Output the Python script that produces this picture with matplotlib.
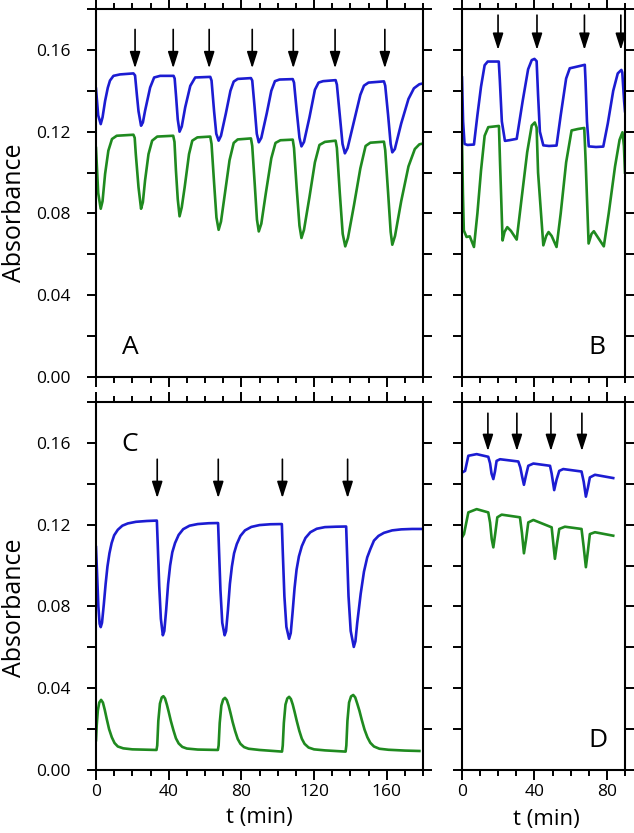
import matplotlib
matplotlib.use('Agg')
import matplotlib.pyplot as plt
from matplotlib.ticker import MultipleLocator, FormatStrFormatter

plt.rcParams['font.family'] = ['Open Sans', 'DejaVu Sans']

BLUE = '#1c1cd2'
GREEN = '#1f8a1f'

# panel A (t in min, absorbance)
a_blue_t = [0, 1.2, 2.6, 3.6, 5.0, 6.5, 7.7, 9.6, 13.2, 20.6, 21.5, 22.5, 23.4, 24.8, 25.8, 27.0, 29.8, 32.0, 35.3, 42.7,
            43.3, 44.1, 45.0, 46.0, 47.2, 49.1, 51.9, 54.6, 62.9, 63.6, 65.0, 66.2, 67.5, 68.8, 71.5, 74.0, 75.8, 78, 85.3,
            86.0, 87.3, 88.5, 89.6, 91, 94, 96.5, 98.5, 101, 108.3, 109, 110.5, 112, 113.1, 114.5, 117.5, 120.5, 122.5, 125,
            131.9, 132.6, 134.2, 135.7, 137, 138.5, 142, 145.5, 147.5, 150, 158.5, 159.2, 160.8, 162.2, 163.1, 164.5, 168,
            172, 175, 178, 180]
a_blue = [0.141, 0.128, 0.1237, 0.127, 0.135, 0.1415, 0.145, 0.1473, 0.148, 0.1485, 0.1475, 0.138, 0.130, 0.1229, 0.1245,
          0.1302, 0.1416, 0.1465, 0.1473, 0.1473, 0.146, 0.137, 0.126, 0.120, 0.1225, 0.1319, 0.1424, 0.1465, 0.1468,
          0.145, 0.130, 0.119, 0.1156, 0.118, 0.129, 0.140, 0.1445, 0.1458, 0.1462, 0.145, 0.132, 0.119, 0.1148, 0.117,
          0.129, 0.140, 0.1447, 0.1455, 0.1457, 0.144, 0.130, 0.117, 0.1128, 0.115, 0.127, 0.1405, 0.1440, 0.1447, 0.1452,
          0.143, 0.128, 0.114, 0.1094, 0.112, 0.125, 0.138, 0.1425, 0.1440, 0.1446, 0.1425, 0.128, 0.114, 0.1099, 0.1115,
          0.124, 0.136, 0.1412, 0.1432, 0.1436]
a_green_t = [0, 1.2, 2.6, 3.6, 5.0, 6.8, 8.8, 11.4, 20.6, 21.3, 21.9, 23.4, 24.8, 25.8, 27.0, 28.9, 30.9, 33.7, 42.5, 43.2,
             44.0, 45.0, 46.0, 47.2, 48.8, 51.2, 53.0, 55.8, 62.9, 63.6, 65.0, 66.3, 67.5, 68.8, 71.0, 73.5, 75.8, 78, 85.3,
             86, 87.4, 88.6, 89.6, 91, 93.5, 96.5, 98.8, 101.5, 108.3, 109, 110.5, 112, 113.1, 114.5, 117.5, 120.5, 123, 126,
             131.9, 132.6, 134.2, 135.8, 137.2, 138.7, 142, 145.5, 148.4, 151, 158.5, 159.2, 160.8, 162.2, 163.1, 164.6, 168,
             172, 175.5, 178, 180]
a_green = [0.112, 0.090, 0.0823, 0.086, 0.0993, 0.1107, 0.1164, 0.118, 0.1185, 0.117, 0.1091, 0.0928, 0.0823, 0.0855,
           0.0961, 0.109, 0.1156, 0.1176, 0.118, 0.115, 0.101, 0.087, 0.0786, 0.083, 0.0928, 0.109, 0.1156, 0.1172, 0.1176,
           0.114, 0.095, 0.078, 0.072, 0.076, 0.090, 0.106, 0.1145, 0.1162, 0.1167, 0.113, 0.094, 0.077, 0.0712, 0.075,
           0.090, 0.107, 0.1145, 0.1158, 0.1161, 0.112, 0.092, 0.074, 0.068, 0.072, 0.088, 0.105, 0.1135, 0.1150, 0.1156,
           0.112, 0.090, 0.070, 0.0639, 0.068, 0.084, 0.102, 0.1130, 0.1146, 0.1151, 0.111, 0.090, 0.071, 0.0647, 0.069,
           0.086, 0.103, 0.1115, 0.1138, 0.1142]
a_arrows = [21.5, 42.5, 62.3, 86, 108.6, 131.6, 159]

# panel B
b_blue_t = [0, 0.6, 1.4, 3, 6.6, 8.5, 10.5, 12.5, 14.2, 20.3, 20.9, 22.0, 23.7, 26, 30.2, 33.5, 36.5, 38.5, 40.0, 41.2,
            42.0, 43.0, 44.9, 48, 52.2, 54.5, 57.5, 59.5, 62, 67.8, 68.2, 69.0, 70.0, 74, 78, 80.5, 83.5, 86, 88, 88.5,
            89.5, 90]
b_blue = [0.1465, 0.125, 0.1140, 0.1135, 0.1137, 0.128, 0.142, 0.1525, 0.1543, 0.1543, 0.145, 0.125, 0.1155, 0.1158,
          0.1165, 0.135, 0.1505, 0.1550, 0.1556, 0.1545, 0.138, 0.120, 0.1133, 0.113, 0.1132, 0.128, 0.146, 0.1510,
          0.1515, 0.1527, 0.145, 0.125, 0.1128, 0.1125, 0.1127, 0.124, 0.140, 0.1485, 0.1502, 0.149, 0.135, 0.130]
b_green_t = [0, 0.5, 1.0, 2.5, 4.3, 6.6, 8.5, 10.5, 12.5, 14.5, 20.4, 21.0, 22.4, 23.5, 25, 27, 30.2, 33, 36, 38.5, 40.2,
             41.2, 42.0, 44.9, 46.5, 47.8, 49.5, 52.2, 54.5, 57.5, 60.5, 64, 67.5, 68.3, 69.9, 71.5, 72.8, 74.5, 78.3, 81,
             84.5, 87, 88.6, 89.4, 90]
b_green = [0.1156, 0.090, 0.0717, 0.0685, 0.0688, 0.0636, 0.080, 0.101, 0.118, 0.1222, 0.1228, 0.105, 0.0668, 0.071,
           0.0733, 0.0715, 0.0672, 0.088, 0.110, 0.1230, 0.1245, 0.122, 0.100, 0.0644, 0.069, 0.0709, 0.069, 0.0636,
           0.080, 0.105, 0.1206, 0.1213, 0.1218, 0.105, 0.0653, 0.070, 0.0713, 0.069, 0.0639, 0.080, 0.103, 0.116,
           0.1197, 0.113, 0.100]
b_arrows = [19.9, 41.4, 67.6, 87.7]

# panel C
c_blue_t = [0, 0.5, 1.3, 2.0, 2.6, 3.3, 4.3, 5.3, 6.3, 7.4, 8.6, 10.0, 12.0, 14.5, 17.5, 22, 28, 33.5,
            34.0, 34.8, 35.7, 36.8, 37.6, 38.6, 39.7, 40.8, 42.0, 43.5, 45.5, 48.0, 51.5, 56, 62, 67.2,
            67.7, 68.5, 69.5, 70.8, 71.6, 72.6, 73.7, 74.8, 76.0, 77.5, 79.5, 82, 85.5, 90, 96, 102.3,
            102.8, 103.7, 104.8, 106.3, 107.2, 108.2, 109.3, 110.4, 111.7, 113.3, 115.3, 118, 121.5, 126, 132, 137.7,
            138.2, 139.0, 140.2, 141.9, 142.8, 143.8, 145.7, 147.5, 149.3, 151, 153, 155.5, 158.5, 163, 168, 174, 180]
c_blue = [0.109, 0.098, 0.080, 0.0715, 0.0699, 0.072, 0.081, 0.091, 0.0995, 0.106, 0.1110, 0.1148, 0.1175, 0.1195,
          0.1206, 0.1214, 0.1218, 0.1220,
          0.110, 0.090, 0.074, 0.0659, 0.068, 0.078, 0.091, 0.100, 0.1065, 0.111, 0.1150, 0.1178, 0.1195, 0.1203,
          0.1207, 0.1208,
          0.108, 0.088, 0.072, 0.0659, 0.068, 0.078, 0.091, 0.0995, 0.106, 0.1105, 0.1145, 0.1172, 0.1189, 0.1198,
          0.1202, 0.1203,
          0.107, 0.085, 0.070, 0.0642, 0.067, 0.077, 0.089, 0.098, 0.1045, 0.1095, 0.1135, 0.1163, 0.1180, 0.1188,
          0.1190, 0.1191,
          0.106, 0.085, 0.068, 0.0602, 0.063, 0.072, 0.0862, 0.097, 0.104, 0.108, 0.1122, 0.1145, 0.1160, 0.1172,
          0.1177, 0.1179, 0.1179]
c_green_t = [0, 0.4, 1.0, 1.8, 2.8, 3.8, 4.8, 5.9, 7.2, 8.7, 10.2, 12, 15, 20, 33.3,
             33.7, 34.3, 35.2, 36.2, 37.1, 38, 39, 40, 41.2, 42.6, 44, 45.5, 47.5, 50, 56, 67.1,
             67.5, 68.1, 69.0, 70.0, 71.0, 72, 73, 74, 75.2, 76.6, 78, 79.5, 81.5, 84, 90, 102.4,
             102.8, 103.4, 104.3, 105.3, 106.3, 107.3, 108.3, 109.3, 110.5, 111.9, 113.3, 114.8, 117, 120, 126, 137.4,
             137.8, 138.4, 139.3, 140.4, 141.6, 142.7, 143.8, 145, 146.3, 147.8, 149.4, 151, 153, 156, 161, 170, 178]
c_green = [0.0146, 0.022, 0.029, 0.0330, 0.0343, 0.033, 0.0295, 0.0250, 0.0200, 0.0160, 0.0132, 0.0115, 0.0106, 0.0101,
           0.0098,
           0.012, 0.024, 0.0325, 0.0355, 0.0361, 0.0350, 0.0320, 0.0285, 0.0240, 0.0195, 0.0155, 0.0130, 0.0113, 0.0105,
           0.0100, 0.0098,
           0.012, 0.023, 0.0315, 0.0345, 0.0353, 0.0342, 0.0315, 0.028, 0.0235, 0.0190, 0.0152, 0.0128, 0.0112, 0.0104,
           0.0098, 0.0090,
           0.012, 0.023, 0.032, 0.035, 0.0358, 0.0347, 0.032, 0.0285, 0.024, 0.0192, 0.0153, 0.0128, 0.0110, 0.0101,
           0.0096, 0.0090,
           0.012, 0.024, 0.0330, 0.0360, 0.0367, 0.0355, 0.0325, 0.0290, 0.0245, 0.0198, 0.0160, 0.0133, 0.0115, 0.0104,
           0.0099, 0.0095, 0.0093]
c_arrows = [33.7, 67.3, 102.6, 138.5]

# panel D
d_blue_t = [0, 1.7, 3.5, 8.1, 14.5, 15.5, 16.3, 17.3, 18.2, 19.1, 21, 31.1, 32.2, 33.2, 34.2, 35.3, 36.6, 39.4, 48.6,
            49.5, 50.9, 52.2, 53.7, 55.9, 66, 67.2, 68.4, 69.5, 70.6, 73.4, 83.5]
d_blue = [0.1455, 0.1463, 0.1537, 0.1545, 0.1532, 0.150, 0.145, 0.1423, 0.146, 0.1512, 0.152, 0.1509, 0.148, 0.1435,
          0.1395, 0.144, 0.1488, 0.1499, 0.1488, 0.145, 0.1369, 0.142, 0.1463, 0.1472, 0.146, 0.141, 0.1337, 0.138,
          0.1431, 0.1444, 0.1428]
d_green_t = [0, 1.1, 3.5, 8.1, 14.5, 15.5, 16.4, 17.3, 18.4, 19.5, 21.9, 32, 33.1, 34.2, 35.4, 36.6, 39.4, 49.5, 50.4,
             51.3, 52.5, 53.7, 56.8, 66, 67.2, 68.4, 69.5, 70.6, 73.4, 83.5]
d_green = [0.1138, 0.1154, 0.1260, 0.1276, 0.1260, 0.121, 0.113, 0.1089, 0.116, 0.1236, 0.1249, 0.1236, 0.116, 0.1060,
           0.113, 0.1211, 0.1223, 0.1187, 0.111, 0.1033, 0.111, 0.1179, 0.119, 0.1179, 0.109, 0.0992, 0.107, 0.1154,
           0.1163, 0.1146]
d_arrows = [14.3, 30.3, 49.1, 66.2]

fig = plt.figure(figsize=(6.34, 8.33), dpi=100)
W, H = 634, 833


def add_axes(left, right, top, bottom):
    return fig.add_axes([left / W, 1 - bottom / H, (right - left) / W, (bottom - top) / H])


def style(ax, xmax, xlabels, ylabels):
    ax.set_xlim(0, xmax)
    ax.set_ylim(0, 0.18)
    ax.xaxis.set_major_locator(MultipleLocator(40))
    ax.xaxis.set_minor_locator(MultipleLocator(10))
    ax.yaxis.set_major_locator(MultipleLocator(0.04))
    ax.yaxis.set_minor_locator(MultipleLocator(0.02))
    ax.yaxis.set_major_formatter(FormatStrFormatter('%.2f'))
    for s in ax.spines.values():
        s.set_linewidth(1.5)
    ax.tick_params(which='both', direction='out', top=True, right=True, width=1.4,
                   labelsize=12.5, labelbottom=xlabels, labelleft=ylabels)
    ax.tick_params(axis='x', which='major', length=7, pad=3)
    ax.tick_params(axis='x', which='minor', length=4)
    ax.tick_params(axis='y', which='both', length=6.5, pad=12)


def arrows(ax, xs, top, tip):
    for x in xs:
        ax.annotate('', xy=(x, tip), xytext=(x, top),
                    arrowprops=dict(arrowstyle='-|>,head_length=1.0,head_width=0.32', color='black',
                                    lw=1.2, shrinkA=0, shrinkB=0))


axA = add_axes(96, 423, 9, 377)
axB = add_axes(462, 625, 9, 377)
axC = add_axes(96, 423, 402, 770)
axD = add_axes(462, 625, 402, 770)

lw = 1.9
axA.plot(a_blue_t, a_blue, color=BLUE, lw=lw)
axA.plot(a_green_t, a_green, color=GREEN, lw=lw)
axB.plot(b_blue_t, b_blue, color=BLUE, lw=lw)
axB.plot(b_green_t, b_green, color=GREEN, lw=lw)
axC.plot(c_blue_t, c_blue, color=BLUE, lw=lw)
axC.plot(c_green_t, c_green, color=GREEN, lw=lw)
axD.plot(d_blue_t, d_blue, color=BLUE, lw=lw)
axD.plot(d_green_t, d_green, color=GREEN, lw=lw)

style(axA, 180, False, True)
style(axB, 90, False, False)
style(axC, 180, True, True)
style(axD, 90, True, False)

arrows(axA, a_arrows, 0.170, 0.151)
arrows(axB, b_arrows, 0.177, 0.160)
arrows(axC, c_arrows, 0.152, 0.133)
arrows(axD, d_arrows, 0.1745, 0.156)

axA.text(18.8, 0.0146, 'A', fontsize=19, ha='center', va='center')
axB.text(74.5, 0.0146, 'B', fontsize=19, ha='center', va='center')
axC.text(18.8, 0.159, 'C', fontsize=19, ha='center', va='center')
axD.text(75, 0.0146, 'D', fontsize=19, ha='center', va='center')

fig.text(15 / W, 1 - 213 / H, 'Absorbance', rotation=90, fontsize=18, ha='center', va='center')
fig.text(15 / W, 1 - 608 / H, 'Absorbance', rotation=90, fontsize=18, ha='center', va='center')
fig.text(259 / W, 1 - 817 / H, 't (min)', fontsize=16, ha='center', va='center')
fig.text(546 / W, 1 - 819 / H, 't (min)', fontsize=16, ha='center', va='center')

fig.savefig('out.png', dpi=100)
